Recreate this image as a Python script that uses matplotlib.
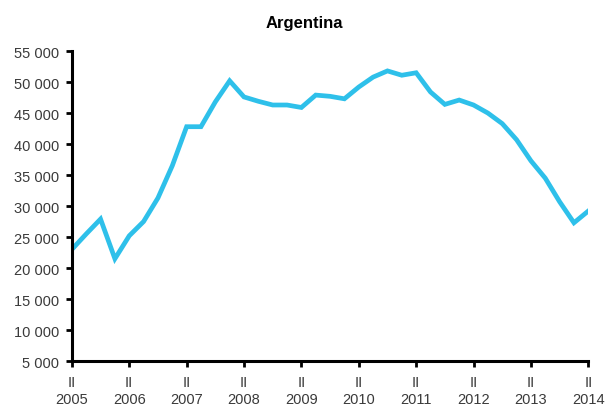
import numpy as np
import matplotlib
matplotlib.use('Agg')
import matplotlib.pyplot as plt

# quarterly values, 2005 Q2 .. 2014 Q2
values = [23000, 25500, 27900, 21500, 25200, 27500, 31300, 36500, 42800, 42800,
          46800, 50200, 47600, 46900, 46300, 46300, 45900, 47900, 47700, 47300,
          49200, 50800, 51800, 51100, 51500, 48400, 46400, 47100, 46300, 45000,
          43300, 40700, 37300, 34500, 30700, 27300, 29200]
years = [str(y) for y in range(2005, 2015)]
yticks = list(range(5000, 55001, 5000))

plt.rcParams['font.family'] = ['Liberation Sans', 'DejaVu Sans']

fig = plt.figure(figsize=(6.09, 4.10), dpi=100)
ax = fig.add_axes([0.118, 0.117, 0.848, 0.756])

x = np.arange(len(values))
ax.plot(x, values, color='#2EC0EA', lw=3.4, solid_joinstyle='miter')

ax.set_xlim(0, 36)
ax.set_ylim(5000, 55000)
ax.set_yticks(yticks)
ax.set_yticklabels(['{:,}'.format(v).replace(',', ' ') for v in yticks])
ax.set_xticks(np.arange(0, 37, 4))
ax.set_xticklabels(['II\n' + y for y in years], linespacing=1.3)

for s in ['top', 'right']:
    ax.spines[s].set_visible(False)
for s in ['left', 'bottom']:
    ax.spines[s].set_linewidth(2.2)
    ax.spines[s].set_color('black')

ax.tick_params(axis='both', length=4, width=2, colors='black',
               labelcolor='#3a3a3a', labelsize=10.5)
ax.tick_params(axis='y', pad=5)
ax.tick_params(axis='x', pad=6)

fig.suptitle('Argentina', x=0.5, y=1 - 16 / 410, va='top',
             fontsize=12, fontweight='bold')

fig.savefig('out.png', dpi=100)
